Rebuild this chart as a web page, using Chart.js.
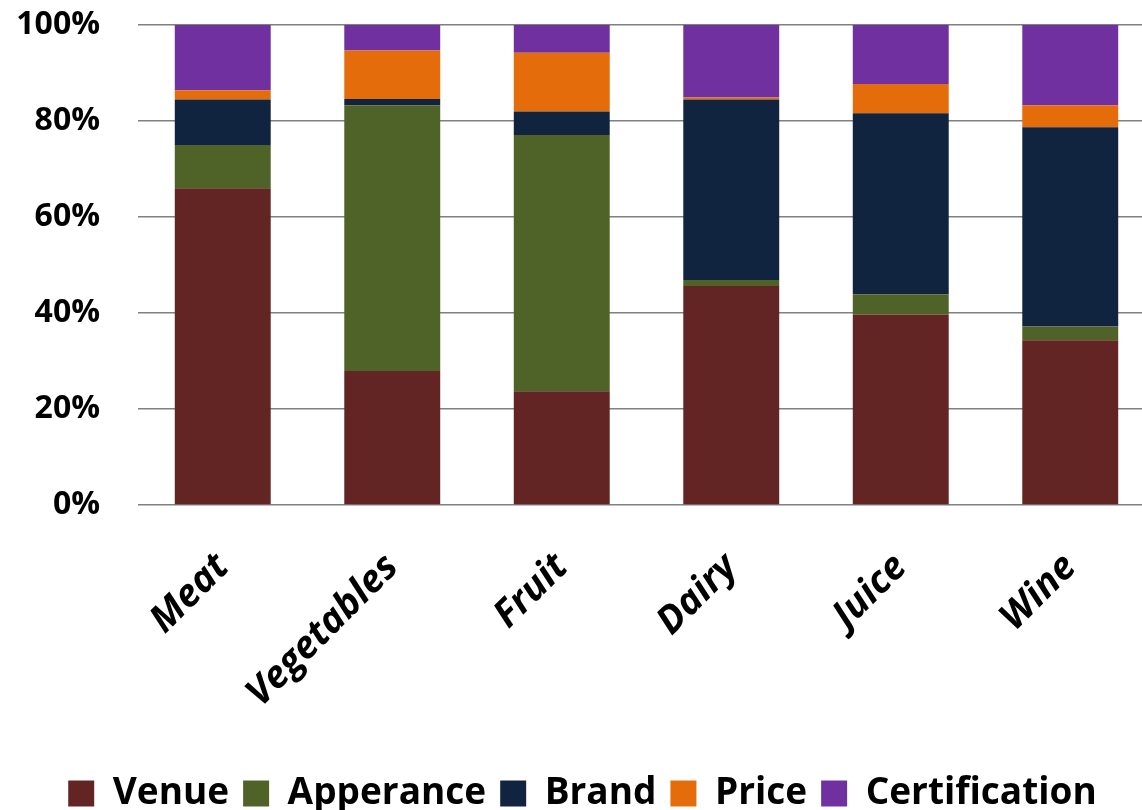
<!DOCTYPE html>
<html>
<head>
<meta charset="utf-8">
<script src="https://cdn.jsdelivr.net/npm/chart.js@4"></script>
<style>
  html, body { margin: 0; padding: 0; background: #fff; overflow: hidden; }
  #wrap { position: relative; width: 1192px; height: 810px; }
</style>
</head>
<body>
<div id="wrap"><canvas id="shareChart"></canvas></div>
<script>
const categories = ["Meat", "Vegetables", "Fruit", "Dairy", "Juice", "Wine"];

// percent shares per category
const venue         = [66.0, 27.9, 23.7, 45.6, 39.7, 34.3];
const apperance     = [ 9.0, 55.4, 53.4,  1.3,  4.2,  2.9];
const brand         = [ 9.5,  1.3,  4.9, 37.6, 37.7, 41.5];
const price         = [ 1.9, 10.1, 12.2,  0.4,  6.1,  4.6];
const certification = [13.6,  5.3,  5.8, 15.1, 12.3, 16.7];

const yTicks = [0, 20, 40, 60, 80, 100];

const ctx = document.getElementById("shareChart").getContext("2d");

function series(label, data, color) {
    return {
        label: label,
        data: data,
        backgroundColor: color,
        borderWidth: 0,
        barPercentage: 0.566,
        categoryPercentage: 1.0
    };
}

new Chart(ctx, {
    type: "bar",
    data: {
        labels: categories,
        datasets: [
            series("Venue", venue, "#632523"),
            series("Apperance", apperance, "#4f6228"),
            series("Brand", brand, "#10243f"),
            series("Price", price, "#e46c0a"),
            series("Certification", certification, "#7030a0")
        ]
    },
    options: {
        responsive: true,
        maintainAspectRatio: false,
        animation: false,
        layout: { padding: { top: 25, left: 10, right: 37, bottom: -12 } },
        plugins: {
            tooltip: { enabled: false },
            legend: {
                position: "bottom",
                labels: {
                    boxWidth: 26,
                    boxHeight: 26,
                    padding: 14,
                    color: "#000",
                    font: { family: "'Open Sans'", size: 37, weight: "bold" }
                }
            }
        },
        scales: {
            x: {
                stacked: true,
                grid: { display: false },
                border: { display: false },
                ticks: {
                    color: "#000",
                    minRotation: 45,
                    maxRotation: 45,
                    padding: 32,
                    font: { family: "'Open Sans'", size: 38, weight: "bold", style: "italic" }
                },
                afterFit(scale) {
                    scale.height = 256;
                    scale.paddingLeft = 0;
                    scale.paddingRight = 0;
                }
            },
            y: {
                stacked: true,
                min: 0,
                max: 100,
                afterBuildTicks(scale) { scale.ticks = yTicks.map(v => ({ value: v })); },
                grid: { color: "#808080", lineWidth: 1.5, drawTicks: false },
                border: { display: false },
                ticks: {
                    color: "#000",
                    padding: 38,
                    callback: v => v + "%",
                    font: { family: "'Open Sans'", size: 32, weight: "bold", lineHeight: 1 }
                },
                afterFit(scale) {
                    scale.width = 128;
                    scale.paddingTop = 0;
                    scale.paddingBottom = 0;
                }
            }
        }
    }
});
</script>
</body>
</html>
